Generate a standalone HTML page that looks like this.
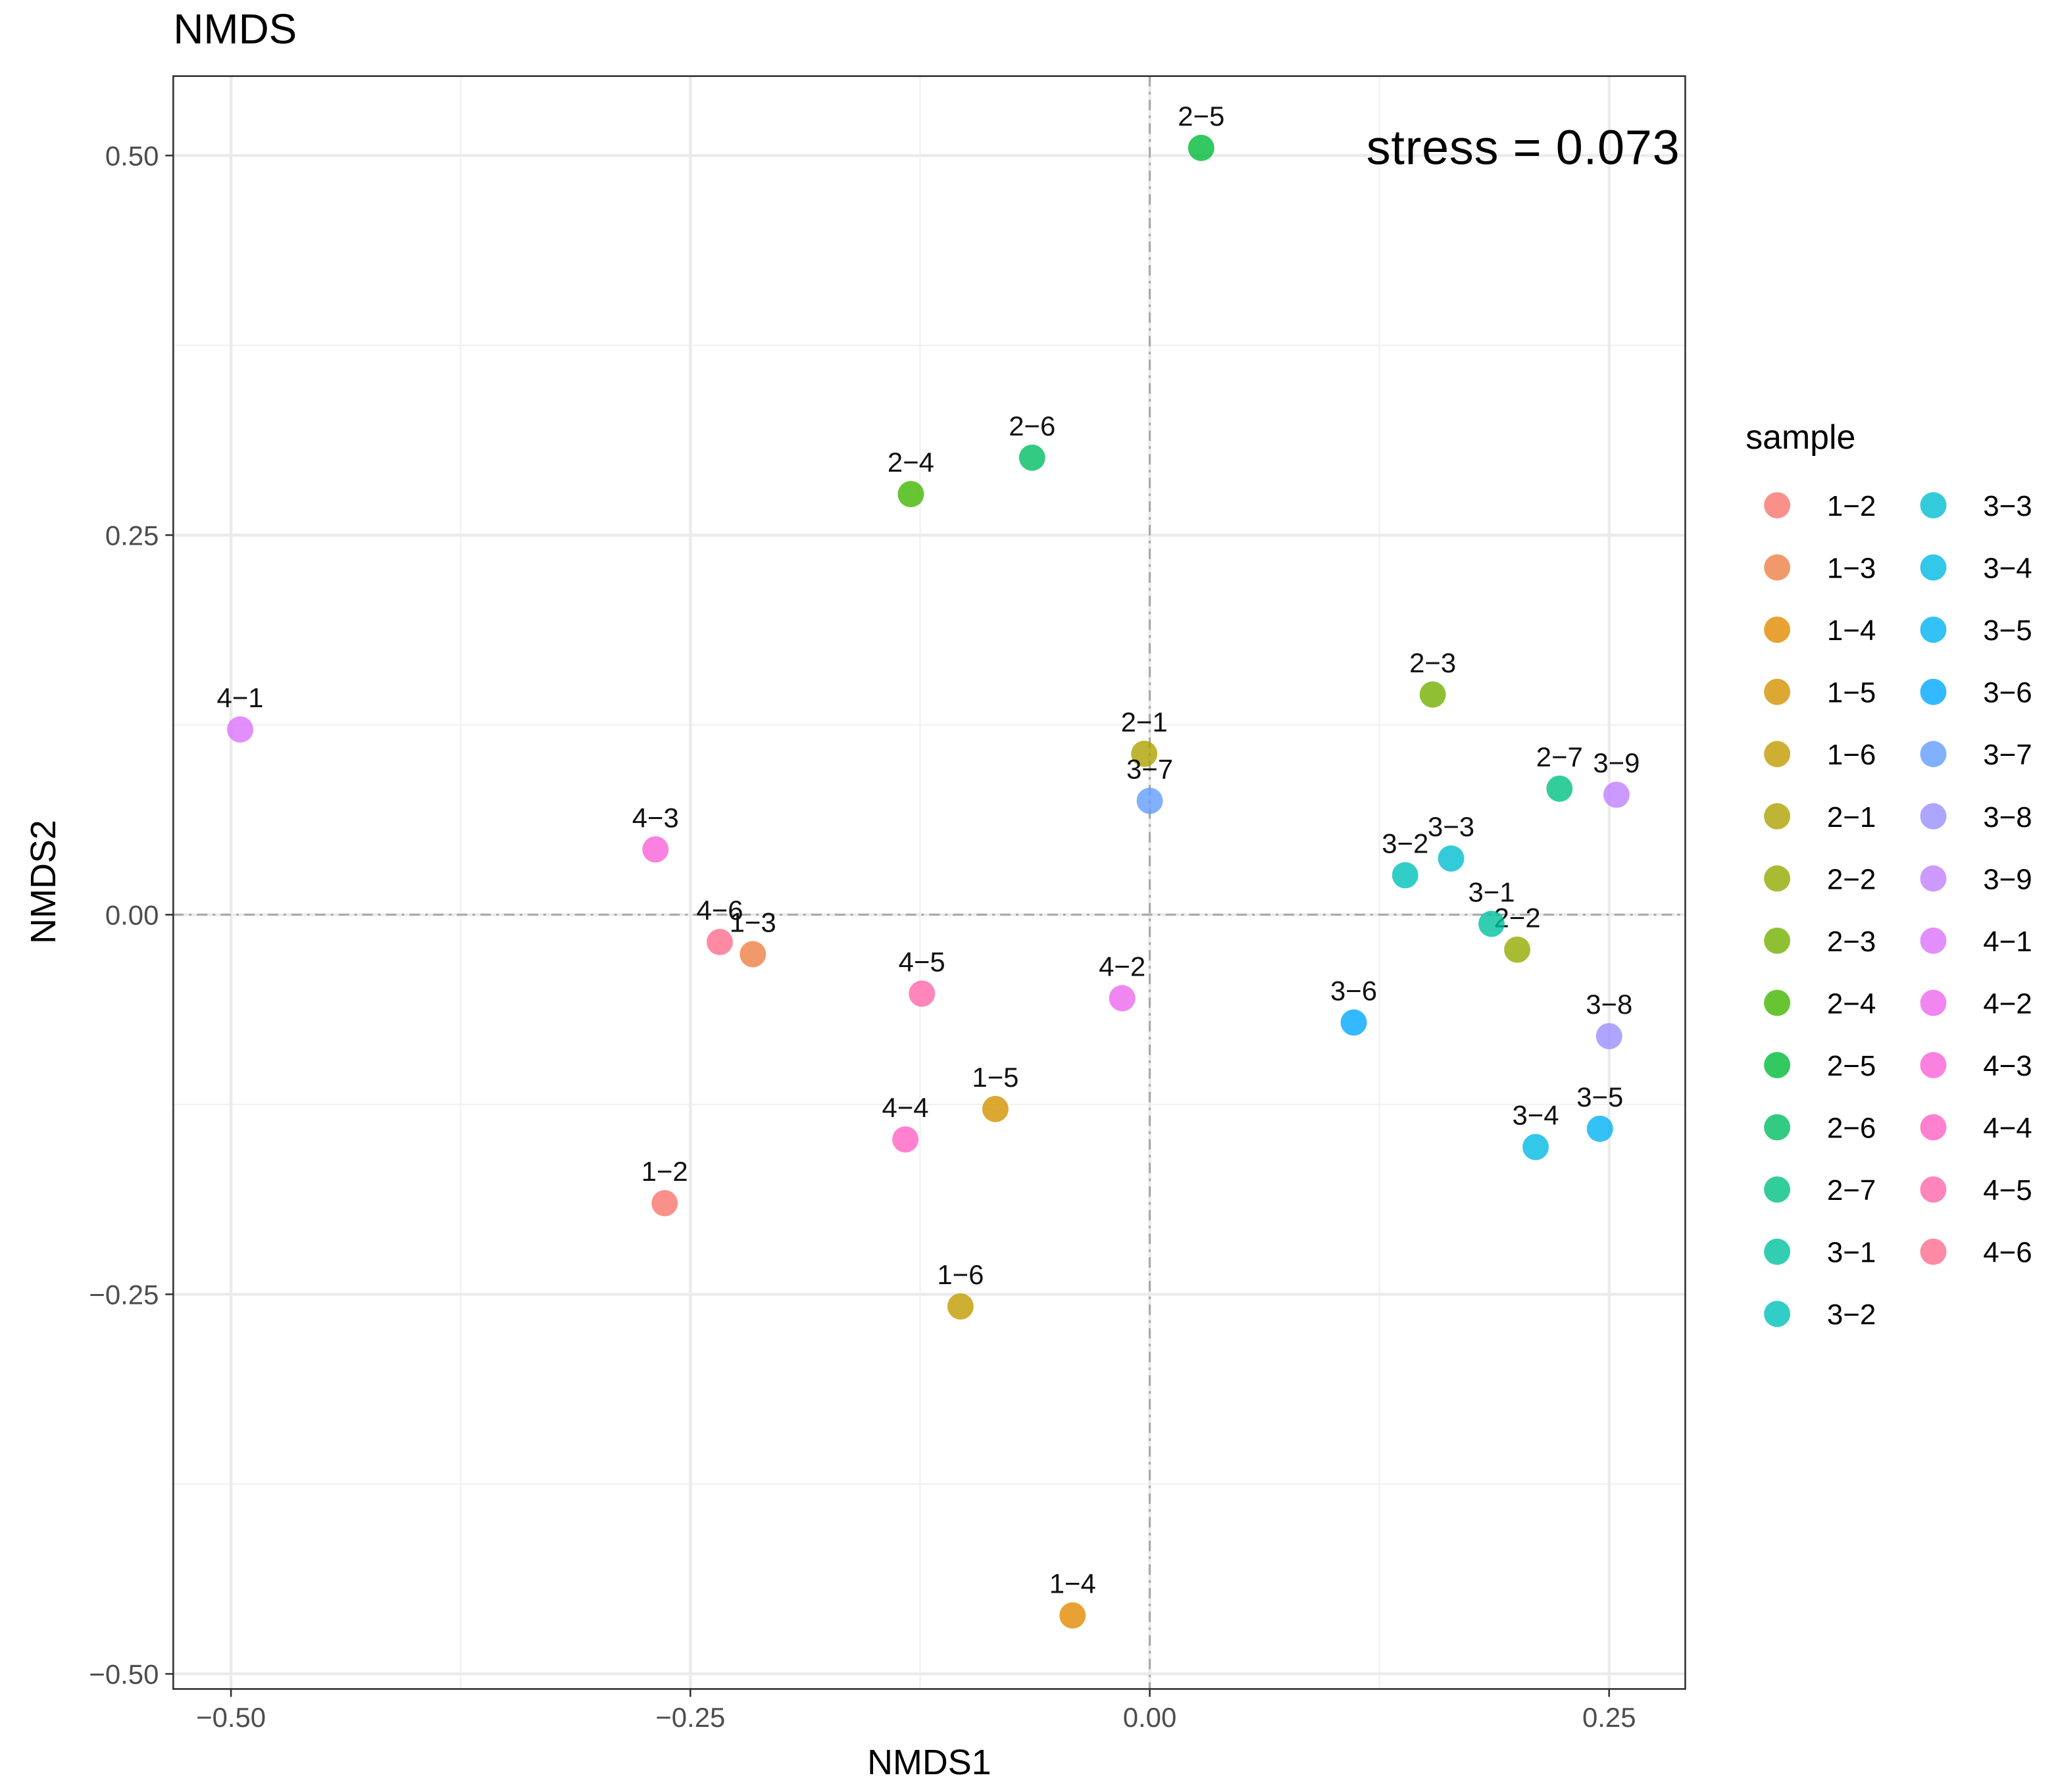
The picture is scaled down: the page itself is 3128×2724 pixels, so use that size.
<!DOCTYPE html>
<html><head><meta charset="utf-8"><style>
html,body{margin:0;padding:0;background:#fff}
svg{display:block;font-family:"Liberation Sans",Arial,sans-serif}
</style></head><body>
<svg id="chart" width="3128" height="2724" viewBox="0 0 1568 1365.5" preserveAspectRatio="none" xmlns="http://www.w3.org/2000/svg">
<rect x="0" y="0" width="1568" height="1366" fill="#fff"/>
<text x="132" y="33" font-size="32" fill="#000">NMDS</text>
<g id="grid"></g>
<g id="axes"></g>
<g id="points"></g>
<rect x="132" y="58" width="1152" height="1229" fill="none" stroke="#333" stroke-width="1.3"/>
<text x="1280" y="125" text-anchor="end" font-size="37" letter-spacing="0.4" fill="#000">stress = 0.073</text>
<text x="708" y="1352" text-anchor="middle" font-size="27" fill="#000">NMDS1</text>
<text transform="translate(42,672) rotate(-90)" text-anchor="middle" font-size="27" fill="#000">NMDS2</text>
<g id="legend"></g>
</svg>
<script>
const sampleNames = ["1-2","1-3","1-4","1-5","1-6","2-1","2-2","2-3","2-4","2-5","2-6","2-7","3-1","3-2","3-3","3-4","3-5","3-6","3-7","3-8","3-9","4-1","4-2","4-3","4-4","4-5","4-6"];
const nmds1 = [-0.264,-0.216,-0.042,-0.084,-0.103,-0.003,0.200,0.154,-0.130,0.028,-0.064,0.223,0.186,0.139,0.164,0.210,0.245,0.111,0.000,0.250,0.254,-0.495,-0.015,-0.269,-0.133,-0.124,-0.234];
const nmds2 = [-0.190,-0.026,-0.4615,-0.128,-0.258,0.106,-0.023,0.145,0.277,0.505,0.301,0.083,-0.006,0.026,0.037,-0.153,-0.141,-0.071,0.075,-0.080,0.079,0.122,-0.055,0.043,-0.148,-0.052,-0.018];
const xTicks = [-0.5,-0.25,0,0.25];
const xTickLabels = ["\u22120.50","\u22120.25","0.00","0.25"];
const yTicks = [-0.5,-0.25,0,0.25,0.5];
const yTickLabels = ["\u22120.50","\u22120.25","0.00","0.25","0.50"];
const xMinor = [-0.375,-0.125,0.125];
const yMinor = [-0.375,-0.125,0.125,0.375];

const NS="http://www.w3.org/2000/svg";
const PL=132,PT=58,PR=1284,PB=1287;
function xs(v){return 876+v*1400;}
function ys(v){return 697-v*1157;}
function mk(tag,attrs,parent){const e=document.createElementNS(NS,tag);for(const k in attrs)e.setAttribute(k,attrs[k]);parent.appendChild(e);return e;}
function hcl(h,c,l){
  const hr=h*Math.PI/180, L=l, U=c*Math.cos(hr), V=c*Math.sin(hr);
  const Xn=0.95047,Yn=1,Zn=1.08883;
  const un=4*Xn/(Xn+15*Yn+3*Zn), vn=9*Yn/(Xn+15*Yn+3*Zn);
  const Y = L>8 ? Yn*Math.pow((L+16)/116,3) : Yn*L/903.3;
  const u=U/(13*L)+un, v=V/(13*L)+vn;
  const X=Y*9*u/(4*v), Z=Y*(12-3*u-20*v)/(4*v);
  let r=3.2406*X-1.5372*Y-0.4986*Z, g=-0.9689*X+1.8758*Y+0.0415*Z, b=0.0557*X-0.2040*Y+1.0570*Z;
  const f=t=>{t=t<=0.0031308?12.92*t:1.055*Math.pow(t,1/2.4)-0.055;return Math.round(Math.max(0,Math.min(1,t))*255);};
  return `rgb(${f(r)},${f(g)},${f(b)})`;
}
const n=sampleNames.length;
const colors=sampleNames.map((s,i)=>hcl(15+360*i/n,100,65));

const grid=document.getElementById('grid');
xMinor.forEach(v=>{const l=mk('line',{x1:xs(v),x2:xs(v),y1:PT,y2:PB,stroke:'#f2f2f2','stroke-width':1.2},grid);

});
yMinor.forEach(v=>{const l=mk('line',{x1:PL,x2:PR,y1:ys(v),y2:ys(v),stroke:'#f2f2f2','stroke-width':1.2},grid);

});
xTicks.forEach(v=>{const l=mk('line',{x1:xs(v),x2:xs(v),y1:PT,y2:PB,stroke:'#ebebeb','stroke-width':2.2},grid);

});
yTicks.forEach(v=>{const l=mk('line',{x1:PL,x2:PR,y1:ys(v),y2:ys(v),stroke:'#ebebeb','stroke-width':2.2},grid);

});
let zl=mk('line',{x1:xs(0),x2:xs(0),y1:PT,y2:PB,stroke:'#aaa','stroke-width':1.5,'stroke-dasharray':'8 4 2 4'},grid);


zl=mk('line',{x1:PL,x2:PR,y1:ys(0),y2:ys(0),stroke:'#aaa','stroke-width':1.5,'stroke-dasharray':'8 4 2 4'},grid);



const axes=document.getElementById('axes');
xTicks.forEach((v,i)=>{
  const t=mk('line',{x1:xs(v),x2:xs(v),y1:PB,y2:PB+6,stroke:'#333','stroke-width':1.3},axes);
  
  
  const tx=mk('text',{x:xs(v),y:PB+29,'text-anchor':'middle','font-size':21,fill:'#4d4d4d'},axes);
  tx.textContent=xTickLabels[i];
  
  
});
yTicks.forEach((v,i)=>{
  const t=mk('line',{x1:PL-6,x2:PL,y1:ys(v),y2:ys(v),stroke:'#333','stroke-width':1.3},axes);
  
  
  const tx=mk('text',{x:PL-11,y:ys(v)+7.5,'text-anchor':'end','font-size':21,fill:'#4d4d4d'},axes);
  tx.textContent=yTickLabels[i];
  
  
});

const pts=document.getElementById('points');
sampleNames.forEach((s,i)=>{
  const c=mk('circle',{cx:xs(nmds1[i]),cy:ys(nmds2[i]),r:10,fill:colors[i],'fill-opacity':0.8},pts);
  
  
  const t=mk('text',{x:xs(nmds1[i]),y:ys(nmds2[i])-17,'text-anchor':'middle','font-size':21,fill:'#111'},pts);
  t.textContent=s.replace('-','\u2212');
  
  
});

const lg=document.getElementById('legend');
const lt=mk('text',{x:1330,y:342,'font-size':26,fill:'#000'},lg);
lt.textContent='sample';


sampleNames.forEach((s,i)=>{
  const col=i<14?0:1, row=i<14?i:i-14;
  const cx=col?1473:1354, cy=385+row*47.4;
  const c=mk('circle',{cx:cx,cy:cy,r:10,fill:colors[i],'fill-opacity':0.8},lg);
  
  
  const t=mk('text',{x:cx+38,y:cy+8,'font-size':22,fill:'#000'},lg);
  t.textContent=s.replace('-','\u2212');
  
  
});
</script>
</body></html>
